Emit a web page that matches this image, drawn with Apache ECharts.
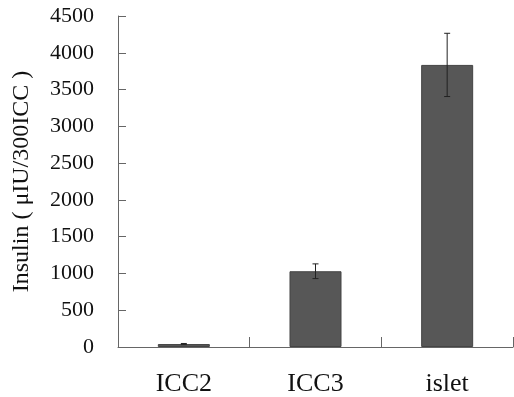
<!DOCTYPE html>
<html><head><meta charset="utf-8">
<script src="https://cdn.jsdelivr.net/npm/echarts@6/dist/echarts.min.js"></script>
<style>html,body{margin:0;padding:0;background:#fff}#c{width:514px;height:397px}</style>
</head><body><div id="c"></div>
<script>
var categories = ['ICC2', 'ICC3', 'islet'];
var means = [40, 1030, 3835];
var errors = [8, 100, 430];
var yTicks = [0, 500, 1000, 1500, 2000, 2500, 3000, 3500, 4000, 4500];
var yName = 'Insulin ( μIU/300ICC )';

var font = '"Liberation Serif","Times New Roman",serif';
var chart = echarts.init(document.getElementById('c'));
var errData = categories.map(function (c, i) { return [i, means[i] - errors[i], means[i] + errors[i]]; });
chart.setOption({
  animation: false,
  grid: { left: 118, right: 1, top: 16, bottom: 50 },
  xAxis: {
    type: 'category', data: categories,
    axisLine: { show: true, lineStyle: { color: '#666', width: 1 } },
    axisTick: { show: true, inside: true, length: 10, alignWithLabel: false, lineStyle: { color: '#666', width: 1 } },
    axisLabel: { fontFamily: font, fontSize: 26, color: '#111', margin: 24 },
    splitLine: { show: false }
  },
  yAxis: {
    type: 'value', min: yTicks[0], max: yTicks[yTicks.length - 1], interval: 500,
    name: yName, nameLocation: 'middle', nameGap: 84, nameRotate: 90,
    nameTextStyle: { fontFamily: font, fontSize: 24, color: '#111' },
    axisLine: { show: true, lineStyle: { color: '#666', width: 1 } },
    axisTick: { show: true, inside: true, length: 8, lineStyle: { color: '#666', width: 1 } },
    axisLabel: { fontFamily: font, fontSize: 22, color: '#111', margin: 24,
      formatter: function (v) { return String(v); } },
    splitLine: { show: false }
  },
  series: [{
    type: 'bar', data: means, barWidth: '39.5%',
    itemStyle: { color: '#575757', borderColor: '#444', borderWidth: 1 }
  }, {
    type: 'custom', data: errData, z: 10,
    renderItem: function (params, api) {
      var x = api.value(0);
      var lo = api.coord([x, api.value(1)]);
      var hi = api.coord([x, api.value(2)]);
      var cap = 3;
      var st = { stroke: '#222', lineWidth: 1 };
      return { type: 'group', children: [
        { type: 'line', shape: { x1: lo[0], y1: lo[1], x2: hi[0], y2: hi[1] }, style: st },
        { type: 'line', shape: { x1: hi[0] - cap, y1: hi[1], x2: hi[0] + cap, y2: hi[1] }, style: st },
        { type: 'line', shape: { x1: lo[0] - cap, y1: lo[1], x2: lo[0] + cap, y2: lo[1] }, style: st }
      ]};
    }
  }]
});
</script></body></html>
